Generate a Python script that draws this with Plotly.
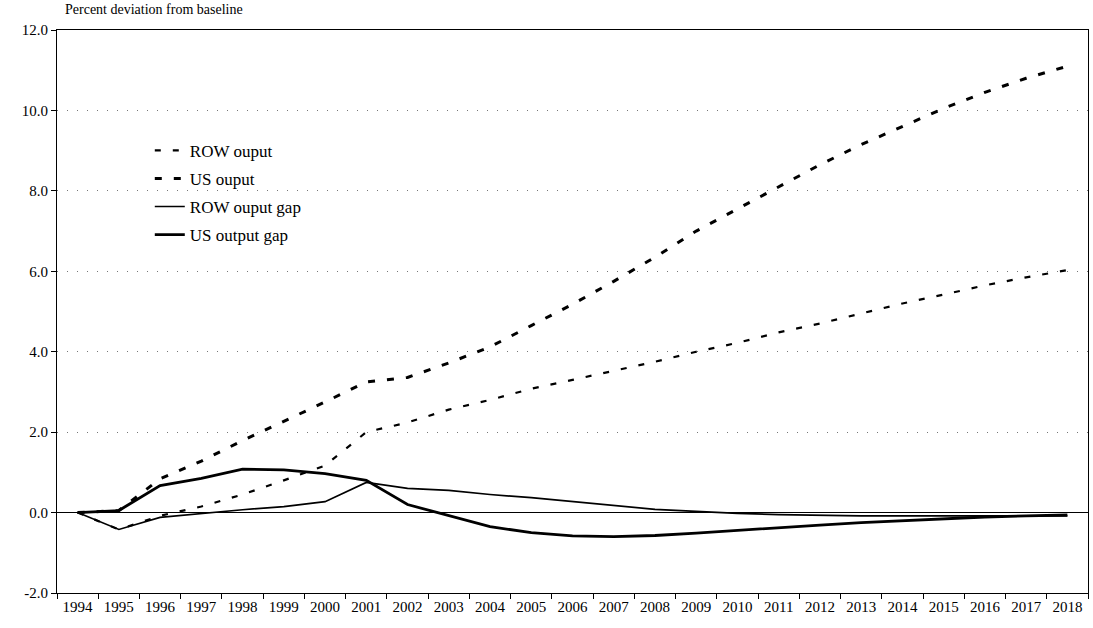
import plotly.graph_objects as go

years = [str(y) for y in range(1994, 2019)]

row_output = [0.0, -0.42, -0.08, 0.15, 0.45, 0.8, 1.17, 2.0, 2.24, 2.56, 2.8, 3.08, 3.3,
              3.52, 3.75, 4.0, 4.22, 4.48, 4.7, 4.95, 5.2, 5.42, 5.65, 5.85, 6.03]
us_output = [0.0, 0.05, 0.84, 1.28, 1.79, 2.26, 2.75, 3.25, 3.36, 3.72, 4.12, 4.65, 5.18,
             5.75, 6.35, 7.0, 7.55, 8.1, 8.65, 9.15, 9.6, 10.05, 10.45, 10.8, 11.1]
row_gap = [0.0, -0.42, -0.12, -0.02, 0.07, 0.15, 0.27, 0.75, 0.6, 0.55, 0.45, 0.37, 0.27,
           0.17, 0.08, 0.03, -0.02, -0.05, -0.07, -0.08, -0.08, -0.08, -0.08, -0.08, -0.08]
us_gap = [0.0, 0.05, 0.67, 0.85, 1.08, 1.06, 0.97, 0.8, 0.2, -0.08, -0.35, -0.5, -0.58,
          -0.6, -0.57, -0.51, -0.44, -0.38, -0.31, -0.25, -0.2, -0.15, -0.11, -0.08, -0.06]

y_ticks = [-2, 0, 2, 4, 6, 8, 10, 12]

FONT = "Liberation Serif, Times New Roman, serif"

fig = go.Figure()
fig.add_trace(go.Scatter(x=years, y=row_output, name="ROW ouput", mode="lines",
                         legendgroup="a",
                         line=dict(color="black", width=2.2, dash="6px,12px")))
fig.add_trace(go.Scatter(x=years, y=us_output, name="US ouput", mode="lines",
                         legendgroup="b",
                         line=dict(color="black", width=3, dash="7px,12px")))
fig.add_trace(go.Scatter(x=years, y=row_gap, name="ROW ouput gap", mode="lines",
                         legendgroup="c",
                         line=dict(color="black", width=1.7)))
fig.add_trace(go.Scatter(x=years, y=us_gap, name="US output gap", mode="lines",
                         legendgroup="d",
                         line=dict(color="black", width=2.8)))

fig.update_layout(
    width=1093, height=628,
    margin=dict(l=57, r=5, t=30, b=35, autoexpand=False),
    paper_bgcolor="white", plot_bgcolor="white",
    font=dict(family=FONT, size=14, color="black"),
    showlegend=True,
    legend=dict(x=0.09, y=0.8175, xanchor="left", yanchor="top",
                bgcolor="rgba(0,0,0,0)", font=dict(family=FONT, size=17),
                traceorder="grouped", tracegroupgap=3),
    annotations=[dict(text="Percent deviation from baseline", xref="paper", yref="paper",
                      x=0.006, y=1.0, yshift=11, xanchor="left", yanchor="bottom",
                      showarrow=False, font=dict(family=FONT, size=14))],
)
fig.update_xaxes(type="category", range=[-0.5, 24.5], tickmode="array", tickvals=years,
                 ticktext=years, tickson="boundaries", ticks="outside", ticklen=5,
                 tickcolor="black", showline=True, linecolor="black", linewidth=1,
                 mirror=True, showgrid=False, tickfont=dict(family=FONT, size=15),
                 tickangle=0, automargin=False)
fig.update_yaxes(range=[-2, 12], tickmode="array", tickvals=y_ticks,
                 ticktext=[f"{v:.1f}" for v in y_ticks], ticks="outside", ticklen=5,
                 tickcolor="black", showline=True, linecolor="black", linewidth=1,
                 mirror=True, showgrid=True, gridcolor="#777", gridwidth=1,
                 griddash="1px,9px", zeroline=True, zerolinecolor="black",
                 zerolinewidth=1, tickfont=dict(family=FONT, size=15), automargin=False)

fig.write_html("out.html", config={"displayModeBar": False},
               post_script="document.body.style.margin='0px';document.body.style.overflow='hidden';")
